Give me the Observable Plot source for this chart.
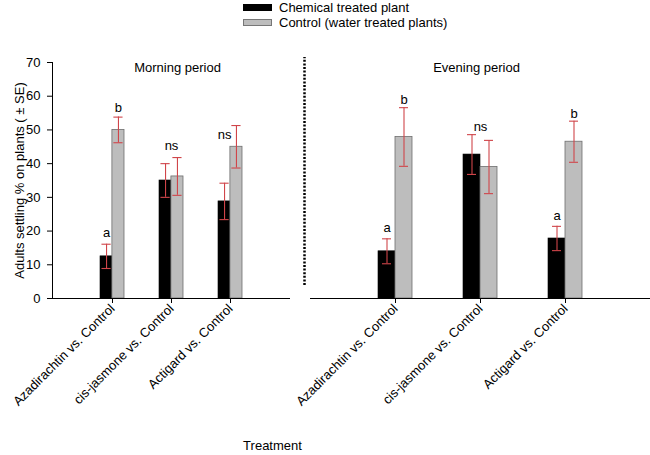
<!DOCTYPE html>
<html>
<head>
<meta charset="utf-8">
<script src="https://cdn.jsdelivr.net/npm/d3@7"></script>
<script src="https://cdn.jsdelivr.net/npm/@observablehq/plot@0.6"></script>
<style>
  html, body { margin: 0; padding: 0; background: #fff; }
  #wrap { position: relative; width: 650px; height: 455px; overflow: hidden; font-family: "Liberation Sans", Arial, sans-serif; color: #000; }
  .pan { position: absolute; top: 0; }
  #legend { position: absolute; left: 243px; top: 0px; font-size: 13px; line-height: 15px; }
  .row { display: flex; align-items: center; height: 15px; }
  .sw { width: 29px; height: 7px; margin-right: 7px; box-sizing: border-box; }
  #xlab { position: absolute; left: 0; width: 545px; text-align: center; top: 438px; font-size: 13px; }
</style>
</head>
<body>
<div id="wrap">
  <div id="legend"></div>
  <div id="left" class="pan" style="left:0px"></div>
  <div id="right" class="pan" style="left:300px"></div>
  <div id="xlab">Treatment</div>
</div>
<script>
// ---- data ----
const treatments = ["Azadirachtin vs. Control", "cis-jasmone vs. Control", "Actigard vs. Control"];
const seriesNames = ["Chemical treated plant", "Control (water treated plants)"];
const seriesFill = ["#000000", "#bdbdbd"];
const periods = ["Morning period", "Evening period"];
const yTicks = [0, 10, 20, 30, 40, 50, 60, 70];

const morningChem   = [12.5, 35.0, 28.8];
const morningChemSE = [3.6, 5.0, 5.4];
const morningCtrl   = [50.0, 36.2, 45.0];
const morningCtrlSE = [3.8, 5.6, 6.3];

const eveningChem   = [14.0, 42.7, 17.8];
const eveningChemSE = [3.7, 5.9, 3.6];
const eveningCtrl   = [47.9, 39.0, 46.5];
const eveningCtrlSE = [8.7, 7.9, 6.1];

const morningLabels    = ["a", "b", "ns", "ns"];
const morningLabelTrt  = [0, 0, 1, 2];
const morningLabelBar  = ["chem", "ctrl", "pair", "chem"];
const morningLabelY    = [19.6, 56.7, 45.4, 48.6];

const eveningLabels    = ["a", "b", "ns", "a", "b"];
const eveningLabelTrt  = [0, 0, 1, 2, 2];
const eveningLabelBar  = ["chem", "ctrl", "pair", "chem", "ctrl"];
const eveningLabelY    = [20.9, 59.0, 51.0, 24.6, 54.8];

// ---- legend ----
const legend = document.getElementById("legend");
seriesNames.forEach((n, i) => {
  const r = document.createElement("div"); r.className = "row";
  const s = document.createElement("div"); s.className = "sw";
  s.style.background = seriesFill[i];
  s.style.border = i === 0 ? "1px solid #000" : "1px solid #777";
  const t = document.createElement("span"); t.textContent = n;
  r.appendChild(s); r.appendChild(t); legend.appendChild(r);
});

const RED = "#d0454a";
const FONT = "'Liberation Sans', Arial, sans-serif";
const FS = 13;

function panel({chem, chemSE, ctrl, ctrlSE, labels, labelTrt, labelBar, labelY, title, titleDx, width, marginLeft, marginRight, first}) {
  const step = (width - marginLeft - marginRight) / 4;
  const bw = step * 0.4;
  const half = bw / 2;
  const capInset = (half - 10) / 2 + 0.5;
  const rows = treatments.map((t, i) => ({
    t,
    chem: chem[i], chemLo: chem[i] - chemSE[i], chemHi: chem[i] + chemSE[i],
    ctrl: ctrl[i], ctrlLo: ctrl[i] - ctrlSE[i], ctrlHi: ctrl[i] + ctrlSE[i]
  }));
  const ann = labels.map((l, i) => ({l, t: treatments[labelTrt[i]], bar: labelBar[i], y: labelY[i]}));
  const off = {chem: -half / 2, ctrl: half / 2, pair: 0};
  const marks = [
    Plot.barY(rows, {x: "t", y: "chem", fill: seriesFill[0], stroke: "#000", strokeWidth: 0.6, insetRight: half}),
    Plot.barY(rows, {x: "t", y: "ctrl", fill: seriesFill[1], stroke: "#6e6e6e", strokeWidth: 0.8, insetLeft: half}),
    Plot.ruleX(rows, {x: "t", y1: "chemLo", y2: "chemHi", stroke: RED, strokeWidth: 1.1, dx: -half / 2}),
    Plot.ruleX(rows, {x: "t", y1: "ctrlLo", y2: "ctrlHi", stroke: RED, strokeWidth: 1.1, dx: half / 2}),
    Plot.tickY(rows, {x: "t", y: "chemLo", stroke: RED, strokeWidth: 1.1, insetLeft: capInset, insetRight: half + capInset}),
    Plot.tickY(rows, {x: "t", y: "chemHi", stroke: RED, strokeWidth: 1.1, insetLeft: capInset, insetRight: half + capInset}),
    Plot.tickY(rows, {x: "t", y: "ctrlLo", stroke: RED, strokeWidth: 1.1, insetLeft: half + capInset, insetRight: capInset}),
    Plot.tickY(rows, {x: "t", y: "ctrlHi", stroke: RED, strokeWidth: 1.1, insetLeft: half + capInset, insetRight: capInset}),
    ...["chem", "ctrl", "pair"].map(b => Plot.text(ann.filter(d => d.bar === b), {x: "t", y: "y", text: "l", dx: off[b], fontSize: FS, fill: "#000"})),
    Plot.ruleY([0], {stroke: "#000", strokeWidth: 1}),
    Plot.text([title], {frameAnchor: "top", lineAnchor: "middle", dy: 5, dx: titleDx, fontSize: FS, fill: "#000"}),
    Plot.axisX({tickRotate: -45, tickSize: 5, tickPadding: 3, label: null, fontSize: FS})
  ];
  if (first) {
    marks.push(Plot.axisY({ticks: yTicks, tickSize: 5, tickPadding: 7, label: "Adults settling % on plants ( ± SE)", labelAnchor: "center", labelArrow: "none", labelOffset: 38, fontSize: FS}));
    marks.push(Plot.frame({anchor: "left", stroke: "#000"}));
  } else {
    marks.push(Plot.axisY({ticks: [], label: null}));
    marks.push(Plot.ruleX([treatments[0]], {x: d => d, y1: 0, y2: 70, stroke: "#000", strokeWidth: 2.5, strokeDasharray: "2,1.6", dx: -91, insetTop: -13, insetBottom: 5}));
  }
  return Plot.plot({
    width, height: 455,
    marginLeft, marginRight, marginTop: 62, marginBottom: 157,
    style: {fontFamily: FONT, fontSize: FS + "px", color: "#000", background: "transparent", overflow: "visible"},
    x: {type: "band", domain: treatments, paddingInner: 0.6, paddingOuter: 0.8},
    y: {domain: [0, 70]},
    marks
  });
}

document.getElementById("left").appendChild(panel({
  chem: morningChem, chemSE: morningChemSE, ctrl: morningCtrl, ctrlSE: morningCtrlSE,
  labels: morningLabels, labelTrt: morningLabelTrt, labelBar: morningLabelBar, labelY: morningLabelY,
  title: periods[0], titleDx: 6, width: 300, marginLeft: 52, marginRight: 10, first: true
}));
document.getElementById("right").appendChild(panel({
  chem: eveningChem, chemSE: eveningChemSE, ctrl: eveningCtrl, ctrlSE: eveningCtrlSE,
  labels: eveningLabels, labelTrt: eveningLabelTrt, labelBar: eveningLabelBar, labelY: eveningLabelY,
  title: periods[1], titleDx: -4, width: 350, marginLeft: 10, marginRight: 0, first: false
}));
</script>
</body>
</html>
